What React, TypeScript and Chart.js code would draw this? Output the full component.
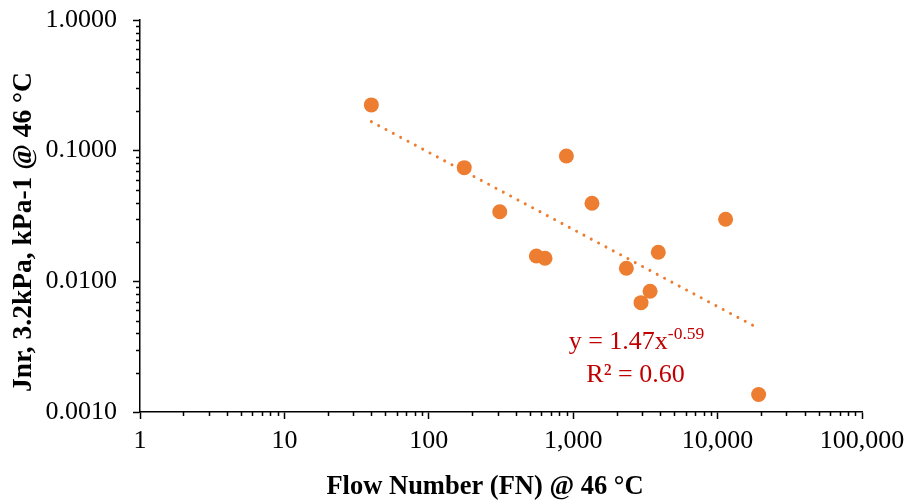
import React, { useEffect, useRef } from 'react';
import { Chart, registerables } from 'chart.js';

Chart.register(...registerables);

// ---- data ----
const flowNumber = [40, 176, 310, 556, 638, 897, 1349, 2334, 2949, 3406, 3884, 11360, 19230];
const jnr = [0.224, 0.0741, 0.0341, 0.01564, 0.01503, 0.0911, 0.0396, 0.01259, 0.00687, 0.0084, 0.01668, 0.0299, 0.00136];
const trendX = [40, 19230];
const trendY = [0.1667, 0.00436];
const xTicks = [1, 10, 100, 1000, 10000, 100000];
const xTickLabels = ['1', '10', '100', '1,000', '10,000', '100,000'];
const yTicks = [0.001, 0.01, 0.1, 1];
const yTickLabels = ['0.0010', '0.0100', '0.1000', '1.0000'];
const xTitle = 'Flow Number (FN) @ 46 °C';
const yTitle = 'Jnr, 3.2kPa, kPa-1 @ 46 °C';
const eqMain = 'y = 1.47x';
const eqSup = '-0.59';
const eqR2 = 'R² = 0.60';

const ORANGE = '#ED7D31';
const RED = '#C00000';
const FONT = "'Liberation Serif', 'Times New Roman', serif";

const extrasPlugin = {
  id: 'extras',
  afterDraw(chart: any) {
    const ctx = chart.ctx;
    const xs = chart.scales.x;
    const ys = chart.scales.y;
    const area = chart.chartArea;
    ctx.save();
    // minor ticks
    ctx.strokeStyle = '#000';
    ctx.lineWidth = 1.5;
    ctx.beginPath();
    for (let d = 0; d < xTicks.length - 1; d++) {
      for (let m = 2; m <= 9; m++) {
        const px = Math.round(xs.getPixelForValue(xTicks[d] * m)) + 0.5;
        ctx.moveTo(px, area.bottom);
        ctx.lineTo(px, area.bottom + 4);
      }
    }
    for (let d = 0; d < yTicks.length - 1; d++) {
      for (let m = 2; m <= 9; m++) {
        const py = Math.round(ys.getPixelForValue(yTicks[d] * m)) + 0.5;
        ctx.moveTo(area.left, py);
        ctx.lineTo(area.left - 4, py);
      }
    }
    ctx.stroke();

    // axis titles
    ctx.fillStyle = '#000';
    ctx.font = `bold 26.5px ${FONT}`;
    ctx.textAlign = 'center';
    ctx.textBaseline = 'middle';
    ctx.fillText(xTitle, 485, 487);
    ctx.save();
    ctx.font = `bold 27.5px ${FONT}`;
    ctx.translate(24, 232);
    ctx.rotate(-Math.PI / 2);
    ctx.fillText(yTitle, 0, 0);
    ctx.restore();

    // trendline equation
    ctx.fillStyle = RED;
    ctx.textAlign = 'left';
    ctx.textBaseline = 'alphabetic';
    ctx.font = `26px ${FONT}`;
    const wMain = ctx.measureText(eqMain).width;
    ctx.font = `17.5px ${FONT}`;
    const wSup = ctx.measureText(eqSup).width;
    const cx = 636.5;
    const x0 = cx - (wMain + wSup) / 2;
    ctx.font = `26px ${FONT}`;
    ctx.fillText(eqMain, x0, 349);
    ctx.font = `17.5px ${FONT}`;
    ctx.fillText(eqSup, x0 + wMain, 339);
    ctx.font = `26px ${FONT}`;
    ctx.textAlign = 'center';
    ctx.fillText(eqR2, 635.5, 382);
    ctx.restore();
  },
};

export default function App() {
  const ref = useRef<HTMLCanvasElement | null>(null);
  useEffect(() => {
    if (!ref.current) return;
    const chart = new Chart(ref.current, {
      type: 'scatter',
      data: {
        datasets: [
          {
            type: 'line',
            label: 'Trend',
            data: trendX.map((x, i) => ({ x, y: trendY[i] })),
            borderColor: ORANGE,
            borderWidth: 3,
            borderDash: [0.01, 8.3],
            borderCapStyle: 'round',
            pointRadius: 0,
            fill: false,
            showLine: true,
          } as any,
          {
            label: 'Jnr',
            data: flowNumber.map((x, i) => ({ x, y: jnr[i] })),
            backgroundColor: ORANGE,
            borderColor: ORANGE,
            borderWidth: 0,
            pointRadius: 7.5,
          },
        ],
      },
      options: {
        responsive: false,
        animation: false,
        layout: { padding: { top: 20, right: 47, left: 0, bottom: 0 } },
        plugins: { legend: { display: false }, tooltip: { enabled: false } },
        scales: {
          x: {
            type: 'logarithmic',
            min: 1,
            max: 100000,
            afterBuildTicks: (scale: any) => {
              scale.ticks = xTicks.map((v) => ({ value: v }));
            },
            afterFit: (scale: any) => {
              scale.height = 90;
              scale.paddingLeft = 0;
              scale.paddingRight = 0;
            },
            ticks: {
              autoSkip: false,
              maxRotation: 0,
              padding: 7,
              color: '#000',
              font: { family: FONT, size: 26 },
              callback: (_v: any, i: number) => xTickLabels[i],
            },
            grid: {
              display: true,
              drawOnChartArea: false,
              drawTicks: true,
              tickLength: 7,
              tickWidth: 1.5,
              tickColor: '#000',
              color: '#000',
            },
            border: { display: true, color: '#000', width: 1.5 },
          },
          y: {
            type: 'logarithmic',
            min: 0.001,
            max: 1,
            afterBuildTicks: (scale: any) => {
              scale.ticks = yTicks.map((v) => ({ value: v }));
            },
            afterFit: (scale: any) => {
              scale.width = 140;
              scale.paddingTop = 0;
              scale.paddingBottom = 0;
            },
            ticks: {
              autoSkip: false,
              padding: 16,
              color: '#000',
              font: { family: FONT, size: 26 },
              callback: (_v: any, i: number) => yTickLabels[i],
            },
            grid: {
              display: true,
              drawOnChartArea: false,
              drawTicks: true,
              tickLength: 7,
              tickWidth: 1.5,
              tickColor: '#000',
              color: '#000',
            },
            border: { display: true, color: '#000', width: 1.5 },
          },
        },
      },
      plugins: [extrasPlugin],
    });
    return () => chart.destroy();
  }, []);
  return (
    <div style={{ position: 'absolute', left: 0, top: 0, width: 909, height: 502, background: '#fff' }}>
      <canvas ref={ref} width={909} height={502} />
    </div>
  );
}
